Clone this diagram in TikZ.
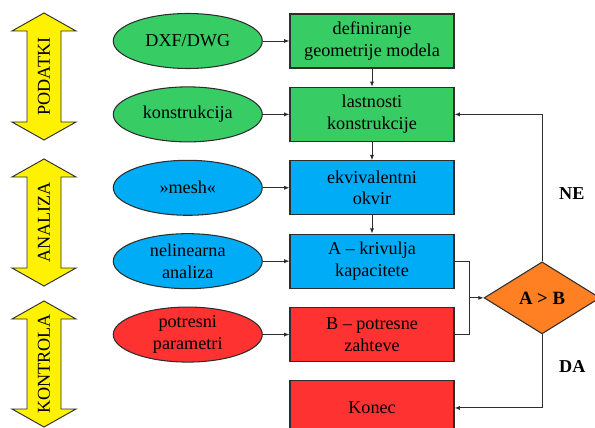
\documentclass[tikz,border=0pt]{standalone}
\usepackage{fontspec}
\setmainfont{Liberation Serif}
\usepackage{tikz}
\usetikzlibrary{shapes.geometric}
\usetikzlibrary{arrows.meta, positioning, calc}

\definecolor{boxgreen}{RGB}{55,204,100}
\definecolor{boxblue}{RGB}{0,172,245}
\definecolor{boxred}{RGB}{255,50,50}
\definecolor{boxorange}{RGB}{255,127,35}
\definecolor{edgegray}{RGB}{45,45,45}

\begin{document}
\begin{tikzpicture}[
    x=0.03cm, y=-0.03cm,
    node distance=0.55cm,
    font=\fontsize{15.5}{18.5}\selectfont,
    block/.style={rectangle, draw=edgegray, line width=0.9pt, align=center, minimum width=4.92cm, minimum height=1.62cm, inner sep=1pt},
    source/.style={ellipse, draw=edgegray, line width=0.9pt, align=center, minimum width=4.47cm, minimum height=1.65cm, inner sep=0.5pt},
    decision/.style={diamond, draw=edgegray, line width=0.9pt, fill=boxorange, minimum width=3.48cm, minimum height=2.16cm, inner sep=0pt, font=\fontsize{16}{18}\selectfont\bfseries},
    phase/.style={rotate=90, inner sep=0pt, font=\fontsize{15.5}{18}\selectfont},
    lbl/.style={inner sep=0pt, font=\fontsize{15.5}{18}\selectfont\bfseries},
    arrow/.style={-{Latex[length=4.5pt,width=3.5pt]}, line width=0.8pt, draw=edgegray}
    ]
\useasboundingbox (0,0) rectangle (595,428);

% Phase arrows
\foreach \ya/\yb/\nm/\txt in {13/140/podatki/PODATKI, 159/286/analiza/ANALIZA, 301/427/kontrola/KONTROLA} {
    \filldraw[fill=yellow, draw=edgegray, line width=0.8pt]
        (44,\ya) -- (76,{\ya+18}) -- (61,{\ya+18}) -- (61,{\yb-18}) -- (76,{\yb-18})
        -- (44,\yb) -- (12,{\yb-18}) -- (27,{\yb-18}) -- (27,{\ya+18}) -- (12,{\ya+18}) -- cycle;
    \node[phase] (\nm) at (44,{(\ya+\yb)/2}) {\txt};
}

% Main steps
\node[block, fill=boxgreen] (geom) at (372,41) {definiranje\\geometrije modela};
\node[block, fill=boxgreen, below=of geom] (prop) {lastnosti\\konstrukcije};
\node[block, fill=boxblue, below=of prop] (frame) {ekvivalentni\\okvir};
\node[block, fill=boxblue, below=of frame] (cap) {A -- krivulja\\kapacitete};
\node[block, fill=boxred, below=of cap] (req) {B -- potresne\\zahteve};
\node[block, fill=boxred, below=of req] (end) {Konec};

% Inputs
\node[source, fill=boxgreen, left=0.8cm of geom] (dxf) {DXF/DWG};
\node[source, fill=boxgreen, left=0.8cm of prop] (constr) {konstrukcija};
\node[source, fill=boxblue, left=0.8cm of frame] (mesh) {»mesh«};
\node[source, fill=boxblue, left=0.8cm of cap] (nonlin) {nelinearna\\analiza};
\node[source, fill=boxred, left=0.8cm of req] (param) {potresni\\parametri};

% Check
\coordinate (mid) at ($(cap.east)!0.5!(req.east)$);
\coordinate (join) at ($(mid)+(0.45cm,0)$);
\node[decision, right=0.87cm of mid] (cmp) {A > B};

% Arrows
\draw[arrow] (dxf) -- (geom);
\draw[arrow] (constr) -- (prop);
\draw[arrow] (mesh) -- (frame);
\draw[arrow] (nonlin) -- (cap);
\draw[arrow] (param) -- (req);
\draw[arrow] (geom) -- (prop);
\draw[arrow] (prop) -- (frame);
\draw[arrow] (frame) -- (cap);
\draw[line width=0.8pt, draw=edgegray] (cap.east) -| (join);
\draw[line width=0.8pt, draw=edgegray] (req.east) -| (join);
\draw[arrow] (join) -- (cmp.west);
\draw[arrow] (cmp.north) |- node[lbl, pos=0.23, right=0.5cm] (ne) {NE} (prop.east);
\draw[arrow] (cmp.south) |- node[lbl, pos=0.22, right=0.5cm] (da) {DA} (end.east);

\end{tikzpicture}
\end{document}
